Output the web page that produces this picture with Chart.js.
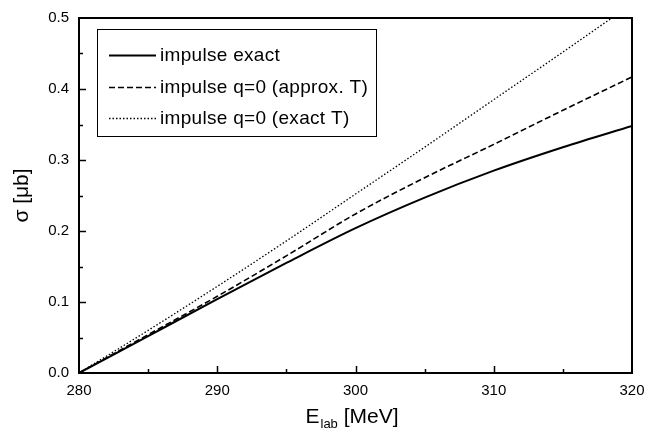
<!DOCTYPE html>
<html>
<head>
<meta charset="utf-8">
<script src="https://cdn.jsdelivr.net/npm/chart.js@4/dist/chart.umd.min.js"></script>
<style>
  html, body { margin: 0; padding: 0; background: #fff; }
  #wrap { width: 645px; height: 434px; }
</style>
</head>
<body>
<div id="wrap"><canvas id="c" width="645" height="434"></canvas></div>
<script>
// E_lab [MeV]
const energies = [280, 285, 290, 295, 300, 305, 310, 315, 320];
// sigma [mub]
const impulseExact    = [0, 0.052, 0.104, 0.155, 0.204, 0.247, 0.285, 0.318, 0.348];
const impulseApproxT  = [0, 0.054, 0.108, 0.165, 0.224, 0.275, 0.322, 0.370, 0.417];
const impulseExactT   = [0, 0.060, 0.122, 0.186, 0.252, 0.318, 0.385, 0.452, 0.520];
const seriesLabels = ['impulse exact', 'impulse q=0 (approx. T)', 'impulse q=0 (exact T)'];

const xMajor = [280, 290, 300, 310, 320];
const xMinor = [285, 295, 305, 315];
const yMajor = [0, 0.1, 0.2, 0.3, 0.4, 0.5];
const yMinor = [0.05, 0.15, 0.25, 0.35, 0.45];
const yTickLabels = ['0.0', '0.1', '0.2', '0.3', '0.4', '0.5'];

const FONT = '"Liberation Sans", Arial, sans-serif';

const pts = arr => arr.map((v, i) => ({ x: energies[i], y: v }));

// box round the plot plus inward ticks
const frame = {
  id: 'frame',
  afterDatasetsDraw(chart) {
    const { ctx, chartArea: a, scales: { x, y } } = chart;
    ctx.save();
    ctx.strokeStyle = '#000';
    ctx.lineWidth = 2;
    ctx.strokeRect(a.left, a.top, a.right - a.left, a.bottom - a.top);
    ctx.lineWidth = 1.5;
    ctx.beginPath();
    const tick = (vals, len) => {
      vals.forEach(v => {
        const px = Math.round(x.getPixelForValue(v)) + 0.5;
        if (px > a.left + 2 && px < a.right - 2) {
          ctx.moveTo(px, a.bottom); ctx.lineTo(px, a.bottom - len);
        }
      });
    };
    const ytick = (vals, len) => {
      vals.forEach(v => {
        const py = Math.round(y.getPixelForValue(v)) + 0.5;
        if (py > a.top + 2 && py < a.bottom - 2) {
          ctx.moveTo(a.left, py); ctx.lineTo(a.left + len, py);
        }
      });
    };
    tick(xMajor, 7); tick(xMinor, 4);
    ytick(yMajor, 7); ytick(yMinor, 4);
    ctx.stroke();
    ctx.restore();
  }
};

// legend box inside the plot
const boxLegend = {
  id: 'boxLegend',
  afterDraw(chart) {
    const { ctx } = chart;
    ctx.save();
    ctx.strokeStyle = '#000';
    ctx.lineWidth = 1;
    ctx.strokeRect(97.5, 29.5, 279, 107);
    ctx.font = '19px ' + FONT;
    ctx.letterSpacing = '0.3px';
    ctx.fillStyle = '#000';
    ctx.textBaseline = 'middle';
    const rows = [55, 87, 118];
    chart.data.datasets.forEach((ds, i) => {
      const yy = rows[i] + 0.5;
      ctx.beginPath();
      ctx.lineWidth = ds.borderWidth;
      ctx.setLineDash(ds.borderDash || []);
      ctx.moveTo(109, yy);
      ctx.lineTo(156, yy);
      ctx.stroke();
      ctx.setLineDash([]);
      ctx.fillText(ds.label, 160, rows[i] + 1);
    });
    ctx.restore();
  }
};

// axis titles (x title has a subscript)
const titles = {
  id: 'titles',
  afterDraw(chart) {
    const { ctx, chartArea: a } = chart;
    ctx.save();
    ctx.fillStyle = '#000';
    ctx.textBaseline = 'alphabetic';
    const big = '21px ' + FONT, small = '13px ' + FONT;
    ctx.font = big;
    const wE = ctx.measureText('E').width;
    const wR = ctx.measureText(' [MeV]').width;
    ctx.font = small;
    const wS = ctx.measureText('lab').width;
    const total = wE + wS + wR;
    let x0 = (a.left + a.right) / 2 - total / 2 - 4;
    const base = 423;
    ctx.font = big; ctx.fillText('E', x0, base);
    ctx.font = small; ctx.fillText('lab', x0 + wE + 1, base + 5);
    ctx.font = big; ctx.fillText(' [MeV]', x0 + wE + wS + 1, base);

    ctx.translate(22, (a.top + a.bottom) / 2);
    ctx.rotate(-Math.PI / 2);
    ctx.textAlign = 'center';
    ctx.textBaseline = 'middle';
    ctx.font = big;
    ctx.fillText('σ [μb]', 0, 0);
    ctx.restore();
  }
};

new Chart(document.getElementById('c'), {
  type: 'line',
  data: {
    datasets: [
      { label: seriesLabels[0], data: pts(impulseExact), borderColor: '#000', borderWidth: 2, borderDash: [] },
      { label: seriesLabels[1], data: pts(impulseApproxT), borderColor: '#000', borderWidth: 1.6, borderDash: [6, 3] },
      { label: seriesLabels[2], data: pts(impulseExactT), borderColor: '#000', borderWidth: 1.3, borderDash: [1.5, 2] }
    ]
  },
  options: {
    responsive: false,
    animation: false,
    layout: { padding: { top: 18, right: 13, left: 0, bottom: 0 } },
    elements: { point: { radius: 0 }, line: { cubicInterpolationMode: 'monotone', fill: false } },
    plugins: { legend: { display: false }, tooltip: { enabled: false } },
    scales: {
      x: {
        type: 'linear',
        min: 280, max: 320,
        afterBuildTicks: s => { s.ticks = xMajor.map(v => ({ value: v })); },
        afterFit: s => { s.height = 61; s.paddingLeft = 0; s.paddingRight = 0; },
        grid: { display: false, drawTicks: false },
        border: { display: false },
        ticks: { padding: 9, color: '#000', font: { family: FONT, size: 15 }, maxRotation: 0 }
      },
      y: {
        min: 0, max: 0.5,
        afterBuildTicks: s => { s.ticks = yMajor.map(v => ({ value: v })); },
        afterFit: s => { s.width = 79; s.paddingTop = 0; s.paddingBottom = 0; },
        grid: { display: false, drawTicks: false },
        border: { display: false },
        ticks: {
          padding: 10, color: '#000', font: { family: FONT, size: 15 },
          callback: (v) => yTickLabels[yMajor.findIndex(t => Math.abs(t - v) < 1e-9)]
        }
      }
    }
  },
  plugins: [frame, boxLegend, titles]
});
</script>
</body>
</html>
